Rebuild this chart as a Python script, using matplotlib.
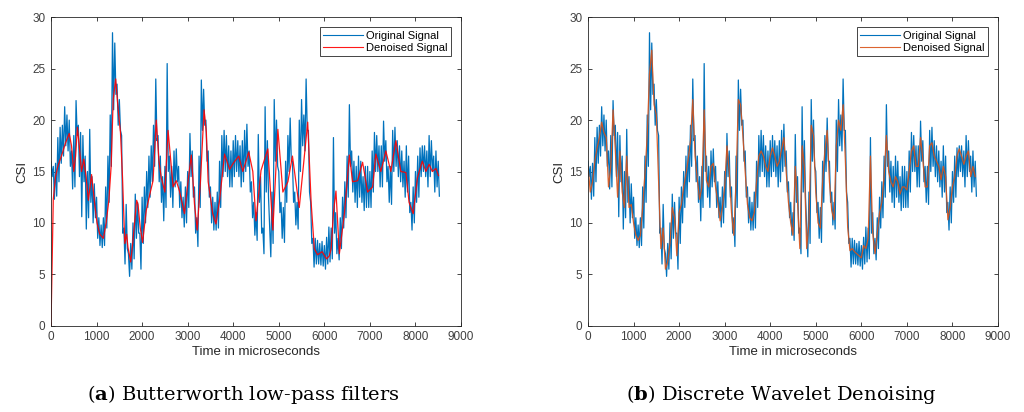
import numpy as np
import matplotlib
matplotlib.use("Agg")
import matplotlib.pyplot as plt

# ---------------- data ----------------
time_step_us = 50  # sampling of the typed series (microseconds)

# Wavelet-denoised signal (also the centre of the original signal band), t = 0, 50, ..., 8500
dwt_denoised = [
    15.5, 13.0, 14.0, 16.0, 17.3, 18.3, 19.8, 18.8, 18.3, 13.5,
    15.5, 21.0, 17.0, 12.5, 17.0, 13.0, 11.5, 16.5, 11.5, 11.8,
    10.0, 8.8, 8.3, 8.8, 11.5, 14.8, 18.5, 24.5, 26.8, 21.5,
    20.5, 14.0, 7.5, 9.5, 5.5, 6.2, 8.0, 11.5, 10.5, 6.8,
    11.0, 11.8, 13.5, 14.7, 16.2, 18.0, 22.0, 16.5, 14.2, 12.3,
    13.5, 21.0, 14.1, 13.5, 15.5, 15.8, 13.5, 12.0, 10.2, 11.5,
    13.5, 17.5, 15.0, 11.0, 8.8, 14.0, 22.0, 21.5, 18.5, 15.0,
    11.8, 10.5, 10.2, 11.0, 14.0, 16.5, 17.0, 16.5, 15.5, 15.0,
    16.5, 17.3, 16.5, 15.5, 16.0, 17.2, 18.3, 15.0, 12.0, 10.0,
    8.8, 15.5, 12.0, 7.5, 17.5, 15.5, 7.5, 10.0, 19.5, 18.5,
    13.0, 10.0, 9.5, 14.0, 17.0, 19.0, 14.0, 11.2, 10.3, 17.5,
    20.0, 19.0, 21.5, 16.0, 9.6, 7.3, 7.5, 7.2, 7.0, 6.8,
    6.6, 7.8, 7.5, 8.5, 16.5, 9.0, 7.0, 9.0, 11.0, 12.0,
    14.5, 18.5, 15.0, 14.0, 13.5, 14.5, 14.0, 12.8, 13.5, 13.5,
    13.2, 15.0, 17.0, 17.5, 15.5, 15.5, 18.3, 16.2, 13.5, 13.5,
    17.5, 17.8, 16.5, 16.0, 15.5, 14.2, 15.5, 14.5, 10.3, 11.5,
    13.5, 14.5, 16.5, 17.2, 16.5, 15.7, 16.5, 17.0, 14.5, 15.5,
    14.5,
]

# Original signal: upper and lower swing of the noisy trace, t = 0, 50, ..., 8500
orig_high = [
    16.0, 15.5, 15.8, 18.3, 19.3, 19.5, 21.3, 20.5, 20.0, 17.0,
    18.5, 21.9, 19.5, 18.8, 18.5, 16.5, 15.0, 19.1, 14.5, 13.8,
    12.5, 10.5, 9.8, 10.5, 13.5, 16.5, 20.5, 28.5, 27.5, 23.5,
    22.0, 18.5, 9.5, 11.8, 7.0, 8.0, 10.0, 12.8, 12.0, 9.0,
    12.5, 13.5, 15.0, 16.5, 17.5, 19.5, 24.0, 18.5, 16.5, 14.5,
    15.5, 25.5, 16.5, 15.5, 17.0, 17.2, 15.5, 14.0, 12.5, 13.5,
    15.0, 18.7, 17.0, 13.5, 10.5, 16.5, 23.9, 23.0, 20.0, 17.0,
    13.5, 12.5, 12.0, 13.0, 16.0, 18.5, 19.0, 18.5, 17.5, 17.0,
    18.0, 18.5, 18.0, 17.5, 18.0, 19.0, 19.6, 17.0, 14.0, 12.0,
    11.0, 18.6, 14.5, 9.5, 21.3, 18.0, 9.5, 13.0, 22.0, 20.0,
    15.0, 12.0, 11.5, 16.0, 18.5, 20.2, 16.0, 13.0, 12.0, 20.0,
    22.0, 20.5, 24.0, 19.0, 12.0, 8.5, 8.5, 8.3, 8.0, 8.2,
    7.8, 8.6, 9.6, 9.5, 18.3, 11.0, 8.5, 10.5, 12.5, 14.0,
    16.5, 21.5, 17.0, 16.0, 15.5, 16.5, 16.0, 14.5, 15.5, 15.5,
    15.0, 17.0, 18.8, 18.5, 17.5, 17.5, 19.9, 18.0, 15.5, 15.5,
    19.0, 19.3, 18.0, 17.5, 17.0, 16.0, 17.5, 16.5, 12.0, 13.5,
    15.0, 16.5, 17.3, 17.5, 17.5, 17.0, 18.5, 18.0, 16.5, 17.0,
    16.0,
]
orig_low = [
    14.5, 12.3, 12.6, 14.0, 15.8, 16.5, 17.5, 17.0, 15.5, 13.3,
    13.5, 18.5, 14.5, 10.6, 14.0, 9.4, 10.5, 12.0, 10.0, 10.5,
    8.5, 7.8, 7.6, 7.8, 9.5, 12.0, 15.5, 21.0, 22.5, 19.5,
    19.0, 9.0, 6.0, 7.5, 4.8, 5.5, 6.5, 8.5, 9.0, 5.5,
    8.0, 10.0, 11.5, 12.5, 14.0, 15.5, 18.0, 14.0, 12.0, 10.2,
    11.5, 15.0, 12.5, 11.5, 13.5, 14.0, 11.5, 10.5, 9.6, 10.0,
    11.5, 14.5, 12.5, 9.0, 7.7, 11.5, 19.0, 19.5, 16.0, 12.5,
    10.0, 9.3, 9.3, 9.5, 11.5, 14.5, 15.0, 14.5, 13.5, 13.5,
    14.5, 15.0, 14.5, 13.5, 14.0, 15.0, 15.5, 13.0, 10.5, 8.8,
    8.3, 12.0, 9.0, 7.0, 13.0, 12.5, 6.7, 8.0, 16.0, 15.5,
    11.0, 8.5, 8.1, 12.0, 15.0, 16.0, 12.0, 9.8, 9.4, 15.0,
    17.5, 17.0, 19.0, 13.0, 8.0, 5.7, 6.0, 6.0, 5.9, 5.8,
    5.5, 6.0, 6.2, 6.5, 9.0, 7.0, 6.4, 7.5, 9.5, 10.5,
    12.5, 15.5, 13.0, 12.0, 11.5, 12.5, 12.0, 11.2, 11.5, 11.5,
    11.5, 13.0, 15.0, 15.0, 13.5, 13.5, 16.0, 14.0, 12.0, 11.8,
    15.0, 15.5, 14.5, 14.0, 13.5, 12.5, 13.0, 11.0, 9.3, 10.0,
    12.0, 12.5, 14.5, 15.0, 14.5, 13.5, 14.5, 15.0, 13.0, 13.5,
    12.6,
]

# Butterworth low-pass output (knot times in microseconds and values)
bw_time = [
    0, 50, 100, 150, 250, 320, 400, 450, 500,
    540, 580, 620, 670, 720, 770, 820, 890, 960, 1010,
    1070, 1150, 1210, 1270, 1320, 1365, 1420, 1475, 1525, 1570,
    1620, 1660, 1690, 1750, 1800, 1880, 1910, 1960, 2010, 2090,
    2170, 2240, 2310, 2370, 2420, 2500, 2570, 2620, 2680, 2750,
    2820, 2930, 3010, 3080, 3150, 3210, 3280, 3360, 3410, 3450,
    3550, 3620, 3700, 3810, 3920, 4000, 4120, 4210, 4340, 4430,
    4500, 4610, 4760, 4870, 4980, 5090, 5200, 5300, 5450, 5635,
    5710, 5780, 5850, 5950, 6050, 6110, 6150, 6200, 6255, 6330,
    6440, 6550, 6620, 6730, 6840, 6950, 7060, 7130, 7240, 7350,
    7460, 7570, 7680, 7790, 7860, 7950, 8045, 8150, 8230, 8300,
    8370, 8450, 8505,
]
bw_denoised = [
    0.0, 12.3, 14.5, 15.5, 16.8, 17.8, 18.7, 17.5, 15.0,
    16.5, 19.3, 17.5, 15.0, 16.2, 14.5, 12.2, 14.7, 11.8, 10.0,
    8.9, 8.5, 10.0, 12.2, 15.5, 22.0, 24.0, 21.0, 18.8, 14.4,
    8.0, 8.9, 7.6, 6.2, 8.3, 12.2, 11.8, 9.5, 8.1, 11.2,
    12.8, 14.1, 20.0, 16.0, 14.4, 13.0, 19.0, 16.5, 13.5, 14.1,
    13.1, 10.9, 14.1, 16.6, 11.8, 9.3, 14.0, 21.0, 18.8, 14.0,
    10.9, 9.9, 12.2, 16.7, 15.2, 15.8, 16.5, 15.0, 16.9, 15.0,
    10.2, 15.1, 17.2, 9.3, 19.1, 13.0, 14.0, 16.5, 11.5, 19.8,
    12.0, 7.5, 6.9, 7.2, 6.5, 6.8, 7.5, 11.0, 13.1, 7.0,
    10.9, 16.6, 14.0, 14.1, 15.9, 13.0, 13.5, 16.7, 15.0, 17.0,
    15.0, 18.0, 15.0, 14.9, 12.0, 10.9, 14.4, 16.0, 15.0, 15.7,
    15.0, 15.3, 14.6,
]

x_ticks = [0, 1000, 2000, 3000, 4000, 5000, 6000, 7000, 8000, 9000]
y_ticks = [0, 5, 10, 15, 20, 25, 30]
legend_labels = ["Original Signal", "Denoised Signal"]
captions = [r"($\mathbf{a}$) Butterworth low-pass filters",
            r"($\mathbf{b}$) Discrete Wavelet Denoising"]

# ---------------- build the noisy trace (upper / lower swings alternate) ----------------
n = len(orig_high)
t_grid = np.arange(n) * time_step_us
t_orig = np.empty(2 * n)
t_orig[0::2] = t_grid
t_orig[1::2] = t_grid + time_step_us / 2
y_orig = np.empty(2 * n)
y_orig[0::2] = orig_high
y_orig[1::2] = orig_low

# ---------------- styling ----------------
plt.rcParams["mathtext.fontset"] = "custom"
plt.rcParams["mathtext.rm"] = "DejaVu Serif"
plt.rcParams["mathtext.bf"] = "DejaVu Serif:bold"

AX_COL = "#262626"
BLUE = "#0072BD"
RED = "#FF0000"
ORANGE = "#D95319"
TICK_FONT = "Liberation Sans"

W, H = 1024, 412
fig = plt.figure(figsize=(W / 100, H / 100), dpi=100)
ax_left = fig.add_axes([51 / W, (H - 325.7) / H, 410 / W, 308.4 / H])
ax_right = fig.add_axes([588 / W, (H - 325.7) / H, 410 / W, 308.4 / H])


def style(ax):
    ax.set_xlim(0, 9000)
    ax.set_ylim(0, 30)
    ax.set_xticks(x_ticks)
    ax.set_yticks(y_ticks)
    ax.tick_params(direction="in", length=3, width=0.6, colors=AX_COL,
                   top=True, right=True, labelsize=8.5, pad=4)
    for lab in ax.get_xticklabels() + ax.get_yticklabels():
        lab.set_fontfamily(TICK_FONT)
        lab.set_color("#404040")
    for sp in ax.spines.values():
        sp.set_color(AX_COL)
        sp.set_linewidth(0.6)
    ax.set_xlabel("Time in microseconds", fontfamily=TICK_FONT, fontsize=9.5,
                  color="#262626", labelpad=2)
    ax.set_ylabel("CSI", fontfamily=TICK_FONT, fontsize=9.5, color="#262626",
                  labelpad=3)


for ax, den_t, den_y, den_col in [
    (ax_left, bw_time, bw_denoised, RED),
    (ax_right, t_grid, dwt_denoised, ORANGE),
]:
    l1, = ax.plot(t_orig, y_orig, color=BLUE, lw=0.9, label=legend_labels[0])
    l2, = ax.plot(den_t, den_y, color=den_col, lw=0.9, alpha=0.9,
                  label=legend_labels[1])
    style(ax)
    leg = ax.legend(handles=[l1, l2], loc="upper right",
                    prop={"family": TICK_FONT, "size": 8},
                    frameon=True, fancybox=False, framealpha=1,
                    edgecolor=AX_COL, handlelength=3.6, handletextpad=0.3,
                    borderaxespad=0.9, borderpad=0.3, labelspacing=0.2)
    leg.get_frame().set_linewidth(0.6)
    for line in leg.get_lines():
        line.set_linewidth(0.8)

fig.text(243 / W, (H - 394) / H, captions[0], ha="center", va="center",
         fontsize=14, fontfamily="DejaVu Serif", color="black")
fig.text(781 / W, (H - 394) / H, captions[1], ha="center", va="center",
         fontsize=14, fontfamily="DejaVu Serif", color="black")

fig.savefig("out.png", dpi=100)
